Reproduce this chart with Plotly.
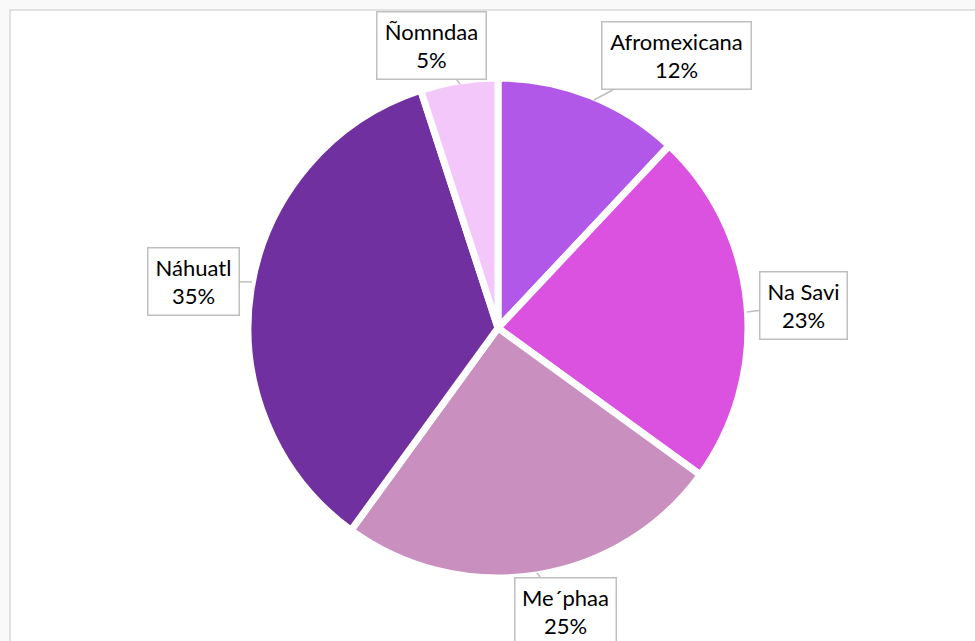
import plotly.graph_objects as go

labels = ["Afromexicana", "Na Savi", "Me\u00b4phaa", "N\u00e1huatl", "\u00d1omndaa"]
values = [12, 23, 25, 35, 5]
colors = ["#b158e8", "#dc52e0", "#c88fbf", "#7030a0", "#f4c7fb"]

W, H = 975, 641
cx, cy, r = 498, 328, 250

fig = go.Figure(go.Pie(
    labels=labels, values=values, sort=False, direction="clockwise", rotation=0,
    marker=dict(colors=colors, line=dict(color="white", width=7)),
    textinfo="none", hoverinfo="label+percent", showlegend=False,
    domain=dict(x=[(cx - r) / W, (cx + r) / W], y=[(H - cy - r) / H, (H - cy + r) / H]),
))

# label box centers (px), arrow tips (px), box widths
boxes = {
    "Afromexicana": ((676, 56), (594, 100), 140),
    "Na Savi": ((803, 305), (747, 312), 78),
    "Me\u00b4phaa": ((565, 611), (537, 573), 92),
    "N\u00e1huatl": ((193, 281), (252, 282), 82),
    "\u00d1omndaa": ((431, 46), (460, 84), 100),
}
annotations = []
for lab, val in zip(labels, values):
    (bx, by), (tx, ty), w = boxes[lab]
    annotations.append(dict(
        x=tx / W, y=1 - ty / H, xref="paper", yref="paper",
        ax=bx - tx, ay=by - ty, axref="pixel", ayref="pixel",
        text=f"{lab}<br>{val}%", showarrow=True, arrowhead=0, arrowwidth=1.5,
        arrowcolor="#bfbfbf", standoff=0,
        font=dict(family="Lato", size=22, color="#000000"),
        bgcolor="white", bordercolor="#bfbfbf", borderwidth=1.5, borderpad=4,
        width=w, height=58, align="center",
    ))

fig.update_layout(
    width=W, height=H, margin=dict(l=0, r=0, t=0, b=0),
    paper_bgcolor="#f9f9f9", plot_bgcolor="white",
    annotations=annotations,
    shapes=[dict(type="rect", xref="paper", yref="paper", x0=10 / W, x1=1.02,
                 y0=-0.02, y1=1 - 10 / H, fillcolor="white",
                 line=dict(color="#d9d9d9", width=1.5), layer="below")],
)
fig.write_html("out.html", config={"displayModeBar": False},
               post_script="document.body.style.margin='0';")
